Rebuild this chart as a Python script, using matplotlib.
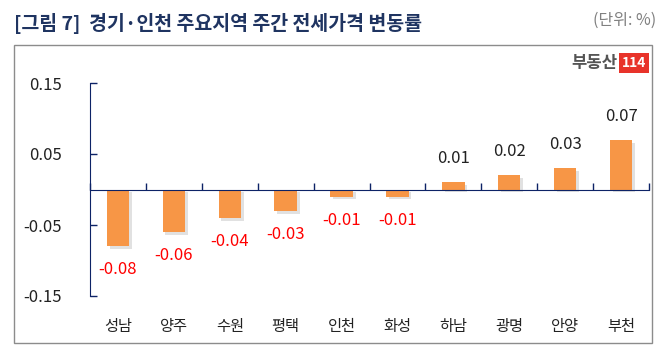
import matplotlib
matplotlib.use('Agg')
import matplotlib.pyplot as plt
import matplotlib.patheffects as pe
from matplotlib.patches import Rectangle
import matplotlib.transforms as mtrans

plt.rcParams['font.family'] = ['Noto Sans CJK KR', 'DejaVu Sans']

regions = ['성남', '양주', '수원', '평택', '인천', '화성', '하남', '광명', '안양', '부천']
changes = [-0.08, -0.06, -0.04, -0.03, -0.01, -0.01, 0.01, 0.02, 0.03, 0.07]
y_ticks = [0.15, 0.05, -0.05, -0.15]
y_tick_labels = ['0.15', '0.05', '-0.05', '-0.15']

navy = '#0d2366'
bar_color = '#f79646'

fig = plt.figure(figsize=(6.72, 3.62), dpi=100)

# outer frame
fig.patches.append(Rectangle((14 / 672, 1 - 343 / 362), 638 / 672, 298 / 362,
                             transform=fig.transFigure, fill=False,
                             edgecolor='#8c8c8c', linewidth=1.0))

fig.text(14 / 672, 1 - 23 / 362, '[그림 7]  경기·인천 주요지역 주간 전세가격 변동률',
         fontsize=14, fontweight='bold', color='#1f3461', va='center', ha='left')
fig.text(656 / 672, 1 - 20 / 362, '(단위: %)', fontsize=11.5, color='#808080',
         va='center', ha='right')

# logo
fig.text(617 / 672, 1 - 63 / 362, '부동산', fontsize=12, fontweight='bold',
         color='#555555', va='center', ha='right')
fig.text(634 / 672, 1 - 63 / 362, '114', fontsize=10, fontweight='bold',
         color='white', va='center', ha='center',
         bbox=dict(boxstyle='square,pad=0.2', facecolor='#e8332a', edgecolor='none'))

ax = fig.add_axes([90 / 672, 1 - 296 / 362, 559 / 672, 213 / 362])
x = list(range(len(regions)))
bars = ax.bar(x, changes, width=0.4, color=bar_color, zorder=3)
for b in bars:
    b.set_path_effects([pe.SimplePatchShadow(offset=(2, -2), shadow_rgbFace='#888888',
                                             alpha=0.25), pe.Normal()])

for xi, v in zip(x, changes):
    if v < 0:
        ax.annotate(f'{v:.2f}', (xi, v), xytext=(0, -17), textcoords='offset points',
                    ha='center', va='center', fontsize=12, color='#ff0000')
    else:
        ax.annotate(f'{v:.2f}', (xi, v), xytext=(0, 17), textcoords='offset points',
                    ha='center', va='center', fontsize=12, color='#222222')

ax.set_xlim(-0.5, len(regions) - 0.5)
ax.set_ylim(-0.15, 0.15)
ax.set_yticks(y_ticks)
ax.set_yticklabels(y_tick_labels, fontsize=12, color='#222222')
ax.tick_params(axis='y', direction='in', length=5, color=navy, width=1, pad=20)

for s in ['top', 'right']:
    ax.spines[s].set_visible(False)
ax.spines['left'].set_color(navy)
ax.spines['bottom'].set_color(navy)
ax.spines['bottom'].set_position(('data', 0))
ax.spines['bottom'].set_zorder(4)

ax.set_xticks([i - 0.5 for i in range(len(regions) + 1)])
ax.set_xticklabels([])
ax.tick_params(axis='x', direction='out', length=5, color=navy, width=1)
# ticks point upward from the zero line
for t in ax.xaxis.get_major_ticks():
    t.tick1line.set_marker(2)

trans = mtrans.blended_transform_factory(ax.transData, ax.transAxes)
for xi, name in zip(x, regions):
    ax.text(xi, -0.145, name, transform=trans, ha='center', va='center',
            fontsize=11, color='#222222')

fig.savefig('out.png', dpi=100)
